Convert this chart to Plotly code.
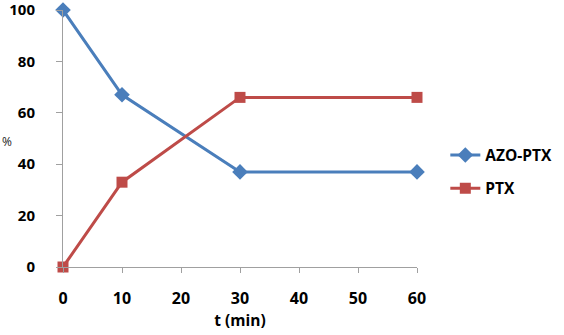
import plotly.graph_objects as go

t_min = [0, 10, 30, 60]
azo_ptx = [100, 67, 37, 37]
ptx = [0, 33, 66, 66]
x_ticks = [0, 10, 20, 30, 40, 50, 60]
y_ticks = [0, 20, 40, 60, 80, 100]

font_fam = "Open Sans, Liberation Sans, Arial, sans-serif"
blue = "#4A7EBB"
red = "#BE4B48"

fig = go.Figure()
fig.add_trace(go.Scatter(x=t_min, y=azo_ptx, name="AZO-PTX", mode="lines+markers",
                         legendgroup="a",
                         line=dict(color=blue, width=3),
                         marker=dict(symbol="diamond", size=12, color=blue),
                         cliponaxis=False))
fig.add_trace(go.Scatter(x=t_min, y=ptx, name="PTX", mode="lines+markers",
                         legendgroup="b",
                         line=dict(color=red, width=3),
                         marker=dict(symbol="square", size=11, color=red),
                         cliponaxis=False))

fig.update_layout(
    width=564, height=335,
    margin=dict(l=63, r=147, t=10, b=68, autoexpand=False),
    plot_bgcolor="white", paper_bgcolor="white",
    font=dict(family=font_fam, size=15, color="black"),
    showlegend=True,
    legend=dict(x=1.08, y=0.37, yanchor="middle", xanchor="left",
                font=dict(size=15.5, weight="bold"), tracegroupgap=10,
                bgcolor="rgba(0,0,0,0)"),
    xaxis=dict(range=[0, 60], tickvals=x_ticks, showgrid=False, zeroline=False,
               showline=True, linecolor="#A0A0A0", linewidth=1, automargin=False,
               ticks="outside", tickcolor="#A0A0A0", ticklen=5,
               ticklabelstandoff=12, ticklabeloverflow="allow",
               tickfont=dict(size=16, weight="bold"),
               title=dict(text="t (min)", font=dict(size=15.5, weight="bold"), standoff=6)),
    yaxis=dict(range=[0, 100], tickvals=y_ticks, showgrid=False, zeroline=False,
               showline=True, linecolor="#A0A0A0", linewidth=1, automargin=False,
               ticks="outside", tickcolor="#A0A0A0", ticklen=6,
               ticklabelstandoff=18, ticklabeloverflow="allow",
               tickfont=dict(size=15, weight="bold")),
    annotations=[dict(text="%", x=-63/354, y=(267-141)/257, xref="paper", yref="paper",
                      xanchor="left", yanchor="middle", showarrow=False,
                      font=dict(size=12, color="#222222"))],
)

fig.write_html("out.html", config={"displayModeBar": False},
               post_script="document.body.style.margin='0';")
